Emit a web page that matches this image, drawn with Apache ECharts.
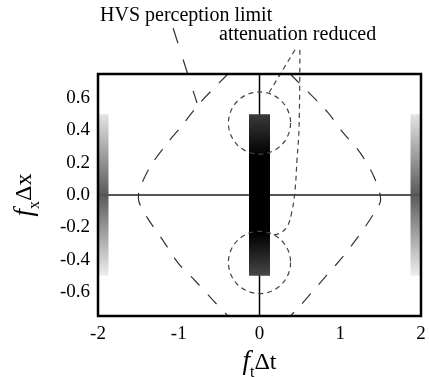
<!DOCTYPE html>
<html>
<head>
<meta charset="utf-8">
<script src="https://cdn.jsdelivr.net/npm/echarts@6/dist/echarts.min.js"></script>
<style>
  html, body { margin: 0; padding: 0; background: #fff; }
  #chart { width: 429px; height: 377px; }
</style>
</head>
<body>
<div id="chart"></div>
<script>
// axis ranges and tick labels
const xRange = [-2, 2]
const yRange = [-0.75, 0.75]
const xTickValues = [-2, -1, 0, 1, 2]
const yTickValues = [-0.6, -0.4, -0.2, 0, 0.2, 0.4, 0.6]

// gray bars at the sides and the black band in the middle: [x0, x1, y0, y1]
const sideBars = [[-2, -1.87, -0.5, 0.5], [1.87, 2, -0.5, 0.5]]
const centerBar = [[-0.13, 0.13, -0.5, 0.5]]

// zero lines
const zeroLineH = [[-2, 0], [2, 0]]
const zeroLineV = [[0, -0.75], [0, 0.75]]

// HVS perception limit (left and right halves)
const hvsLeft = [[-0.39, 0.75], [-0.74, 0.57], [-0.96, 0.43], [-1.16, 0.31], [-1.36, 0.17],
  [-1.49, 0.03], [-1.5, -0.02], [-1.39, -0.14], [-1.21, -0.27], [-1.01, -0.42],
  [-0.8, -0.53], [-0.58, -0.65], [-0.39, -0.75]]
const hvsRight = [[0.38, 0.75], [0.48, 0.7], [0.84, 0.515], [1.03, 0.39], [1.25, 0.26],
  [1.42, 0.11], [1.5, -0.03], [1.41, -0.12], [1.22, -0.26], [1.02, -0.39],
  [0.81, -0.51], [0.48, -0.7], [0.38, -0.75]]

// circles where attenuation is reduced: [cx, cy, r]
const circles = [[0, 0.446, 0.385], [0, -0.418, 0.385]]

// leader lines for the annotations
const hvsLeader = [[-1.07, 1.035], [-0.774, 0.57]]
const attenLeaderA = [[0.44, 0.9], [0.093, 0.614]]
const attenLeaderB = [[0.5, 0.9], [0.49, 0.42], [0.464, 0.217], [0.44, 0.03],
  [0.4, -0.105], [0.34, -0.198], [0.254, -0.236], [0.155, -0.248]]

const FONT = 'Liberation Serif'

const chart = echarts.init(document.getElementById('chart'))

const rectItem = (fillFn) => (params, api) => {
  const p0 = api.coord([api.value(0), api.value(3)])
  const p1 = api.coord([api.value(1), api.value(2)])
  return {
    type: 'rect',
    shape: { x: p0[0], y: p0[1], width: p1[0] - p0[0], height: p1[1] - p0[1] },
    style: { fill: fillFn() }
  }
}

const sideFill = () => new echarts.graphic.LinearGradient(0, 0, 0, 1, [
  { offset: 0, color: '#e4e4e4' },
  { offset: 0.5, color: '#5a5a5a' },
  { offset: 1, color: '#eeeeee' }
])

const centerFill = () => new echarts.graphic.LinearGradient(0, 0, 0.3, 1, [
  { offset: 0, color: '#3a3a3a' },
  { offset: 0.26, color: '#000' },
  { offset: 0.74, color: '#000' },
  { offset: 1, color: '#464646' }
])

const dashLine = (data, dash, color, z, smooth) => ({
  type: 'line',
  data: data,
  showSymbol: false,
  smooth: smooth || false,
  clip: false,
  silent: true,
  z: z,
  lineStyle: { color: color, width: 1.2, type: dash }
})

// axis titles: italic f + subscript + Δ
const titleRich = {
  i: { fontFamily: FONT, fontStyle: 'italic', fontSize: 27, lineHeight: 36, color: '#000' },
  s: { fontFamily: FONT, fontSize: 16, lineHeight: 16, verticalAlign: 'bottom', color: '#000' },
  n: { fontFamily: FONT, fontSize: 24, lineHeight: 36, color: '#000' }
}

const option = {
  animation: false,
  grid: {
    left: 98, right: 8, top: 74, bottom: 61,
    outerBoundsMode: 'none',
    show: true, borderColor: '#000', borderWidth: 2.5, backgroundColor: 'transparent', z: 10
  },
  xAxis: {
    type: 'value',
    min: xRange[0], max: xRange[1], interval: 1,
    axisLine: { show: false },
    axisTick: { show: false },
    splitLine: { show: false },
    axisLabel: {
      margin: 9, fontFamily: FONT, fontSize: 19, color: '#000',
      formatter: (v) => xTickValues.includes(v) ? String(v) : ''
    },
    name: '{i|f}{s|t}{n|Δt}',
    nameLocation: 'middle',
    nameGap: 24,
    nameTextStyle: { fontFamily: FONT, fontSize: 24, color: '#000', rich: titleRich }
  },
  yAxis: {
    type: 'value',
    min: yRange[0], max: yRange[1], interval: 0.05,
    axisLine: { show: false },
    axisTick: { show: false },
    splitLine: { show: false },
    axisLabel: {
      margin: 8, fontFamily: FONT, fontSize: 19, color: '#000',
      formatter: (v) => {
        const hit = yTickValues.find(t => Math.abs(t - v) < 1e-6)
        return hit === undefined ? '' : hit.toFixed(1)
      }
    },
    name: '{i|f}{s|x}{n|Δx}',
    nameLocation: 'middle',
    nameRotate: 90,
    nameGap: 55,
    nameTextStyle: { fontFamily: FONT, fontSize: 24, color: '#000', rich: titleRich }
  },
  graphic: [
    {
      type: 'text', left: 100, top: 6, z: 100,
      style: { text: 'HVS perception limit', fontFamily: FONT, fontSize: 20, fill: '#000' }
    },
    {
      type: 'text', left: 219, top: 25, z: 100,
      style: { text: 'attenuation reduced', fontFamily: FONT, fontSize: 20, fill: '#000' }
    }
  ],
  series: [
    {
      type: 'custom', z: 1, silent: true,
      renderItem: rectItem(sideFill),
      data: sideBars
    },
    {
      type: 'line', data: zeroLineH, showSymbol: false, silent: true, z: 2,
      lineStyle: { color: '#555', width: 2 }
    },
    {
      type: 'line', data: zeroLineV, showSymbol: false, silent: true, z: 2,
      lineStyle: { color: '#000', width: 1.5 }
    },
    {
      type: 'custom', z: 3, silent: true,
      renderItem: rectItem(centerFill),
      data: centerBar
    },
    {
      type: 'custom', z: 4, silent: true,
      renderItem: (params, api) => {
        const c = api.coord([api.value(0), api.value(1)])
        const r = api.size([api.value(2), 0])[0]
        return {
          type: 'circle',
          shape: { cx: c[0], cy: c[1], r: r },
          style: { fill: 'none', stroke: '#444', lineWidth: 1.2, lineDash: [5, 4] }
        }
      },
      data: circles
    },
    dashLine(hvsLeft, [13, 12], '#333', 5, 0.3),
    dashLine(hvsRight, [13, 12], '#333', 5, 0.3),
    dashLine(hvsLeader, [16, 17], '#333', 5),
    dashLine(attenLeaderA, [5, 4], '#444', 5),
    dashLine(attenLeaderB, [5, 4], '#444', 5, 0.4)
  ]
}

chart.setOption(option)
</script>
</body>
</html>
